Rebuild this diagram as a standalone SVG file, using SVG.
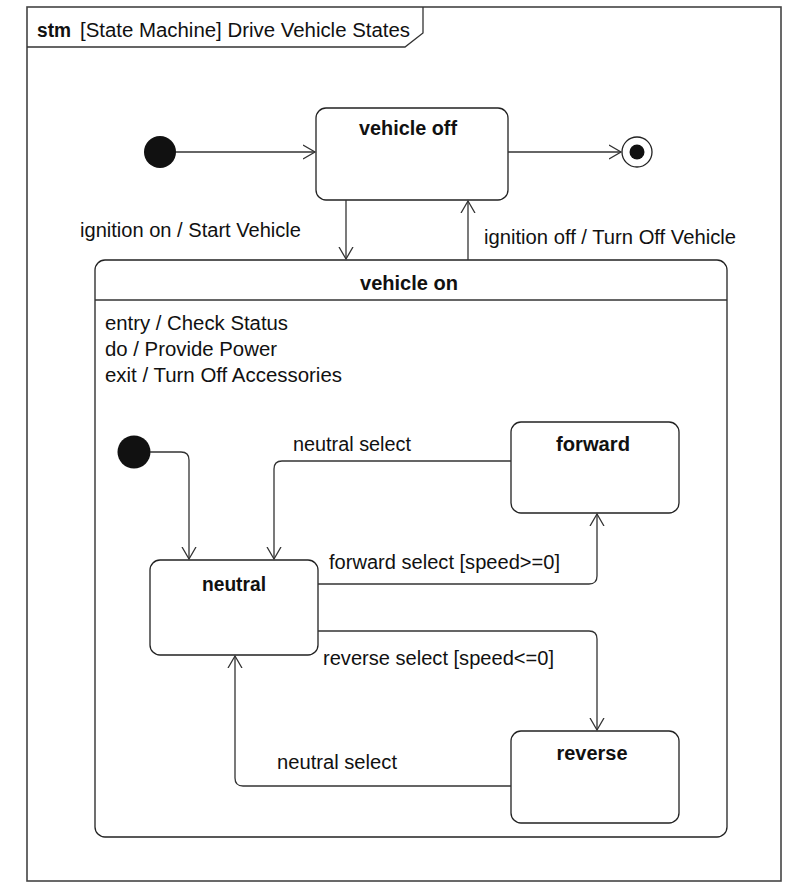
<svg xmlns="http://www.w3.org/2000/svg" width="800" height="894" viewBox="0 0 800 894">
<defs>
<style>
.st{fill:#fff;stroke:#222;stroke-width:1.3}
.ln{fill:none;stroke:#333;stroke-width:1.3}
.t{font-family:"Liberation Sans",Arial,sans-serif;font-size:20px;fill:#111}
.b{font-weight:bold}
.m{text-anchor:middle}
</style>
<marker id="arr" markerUnits="userSpaceOnUse" markerWidth="14" markerHeight="16" refX="12" refY="7" orient="auto" viewBox="0 0 14 14">
<path d="M0,0 L12,7 L0,14" fill="none" stroke="#333" stroke-width="1.3"/>
</marker>
</defs>
<rect width="800" height="894" fill="#fff"/>
<g id="frame">
<rect x="27" y="7" width="754" height="874" fill="none" stroke="#444" stroke-width="1.6"/>
<path d="M27,47 H405 L423,33 V7" fill="none" stroke="#333" stroke-width="1.3"/>
<text class="t b" x="37" y="37" textLength="34" lengthAdjust="spacingAndGlyphs">stm</text>
<text class="t" x="80" y="37" textLength="330" lengthAdjust="spacingAndGlyphs">[State Machine] Drive Vehicle States</text>
</g>
<g id="initial-top"><circle cx="160" cy="152" r="16" fill="#111"/></g>
<g id="final-top"><circle cx="637" cy="152" r="15" class="st"/><circle cx="637" cy="152" r="7.5" fill="#111"/></g>
<g id="vehicle-off">
<rect class="st" x="316" y="108" width="192" height="92" rx="10"/>
<text class="t b m" x="408" y="135" textLength="98" lengthAdjust="spacingAndGlyphs">vehicle off</text>
</g>
<g id="vehicle-on">
<rect class="st" x="95" y="260" width="632" height="577" rx="10"/>
<line class="ln" x1="95" y1="300" x2="727" y2="300"/>
<text class="t b m" x="409" y="290" textLength="98" lengthAdjust="spacingAndGlyphs">vehicle on</text>
<text class="t" x="105" y="330" textLength="183" lengthAdjust="spacingAndGlyphs">entry / Check Status</text>
<text class="t" x="105" y="356" textLength="172" lengthAdjust="spacingAndGlyphs">do / Provide Power</text>
<text class="t" x="105" y="382" textLength="237" lengthAdjust="spacingAndGlyphs">exit / Turn Off Accessories</text>
</g>
<g id="initial-inner"><circle cx="134" cy="452" r="16.5" fill="#111"/></g>
<g id="neutral">
<rect class="st" x="150" y="560" width="168" height="95" rx="10"/>
<text class="t b m" x="234" y="591" textLength="64" lengthAdjust="spacingAndGlyphs">neutral</text>
</g>
<g id="forward">
<rect class="st" x="511" y="422" width="168" height="91" rx="10"/>
<text class="t b m" x="593" y="451" textLength="74" lengthAdjust="spacingAndGlyphs">forward</text>
</g>
<g id="reverse">
<rect class="st" x="511" y="731" width="168" height="92" rx="10"/>
<text class="t b m" x="592" y="760" textLength="71" lengthAdjust="spacingAndGlyphs">reverse</text>
</g>
<g id="connectors">
<path class="ln" d="M176,152 H315" marker-end="url(#arr)"/>
<path class="ln" d="M508,152 H621" marker-end="url(#arr)"/>
<path class="ln" d="M346,200 V259" marker-end="url(#arr)"/>
<path class="ln" d="M468,260 V201" marker-end="url(#arr)"/>
<path class="ln" d="M150,452 H181 Q189,452 189,460 V559" marker-end="url(#arr)"/>
<path class="ln" d="M511,461 H282 Q274,461 274,469 V559" marker-end="url(#arr)"/>
<path class="ln" d="M318,584 H589 Q597,584 597,576 V514" marker-end="url(#arr)"/>
<path class="ln" d="M318,631 H589 Q597,631 597,639 V730" marker-end="url(#arr)"/>
<path class="ln" d="M511,786 H243 Q235,786 235,778 V656" marker-end="url(#arr)"/>
<text class="t" x="80" y="237" textLength="221" lengthAdjust="spacingAndGlyphs">ignition on / Start Vehicle</text>
<text class="t" x="484" y="244" textLength="252" lengthAdjust="spacingAndGlyphs">ignition off / Turn Off Vehicle</text>
<text class="t" x="293" y="451" textLength="118" lengthAdjust="spacingAndGlyphs">neutral select</text>
<text class="t" x="329" y="569" textLength="231" lengthAdjust="spacingAndGlyphs">forward select [speed&gt;=0]</text>
<text class="t" x="323" y="665" textLength="231" lengthAdjust="spacingAndGlyphs">reverse select [speed&lt;=0]</text>
<text class="t" x="277" y="769" textLength="120" lengthAdjust="spacingAndGlyphs">neutral select</text>
</g>
</svg>
